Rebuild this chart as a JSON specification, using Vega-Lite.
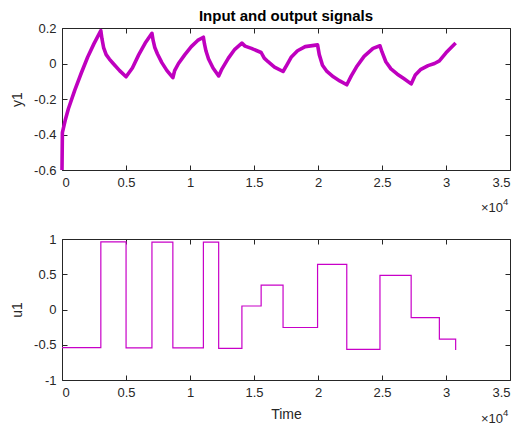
{
  "$schema": "https://vega.github.io/schema/vega-lite/v6.json",
  "background": "white",
  "padding": {"left": 10, "top": 8, "right": 5, "bottom": 0},
  "spacing": 16,
  "config": {
    "view": {"stroke": "#262626", "strokeWidth": 1},
    "font": "Liberation Sans",
    "axis": {
      "grid": false,
      "domain": false,
      "labelFont": "Liberation Sans",
      "labelFontSize": 13,
      "labelColor": "#262626",
      "titleFont": "Liberation Sans",
      "titleFontSize": 14,
      "titleFontWeight": "normal",
      "titleColor": "#262626",
      "tickColor": "#262626",
      "tickSize": -5,
      "labelPadding": 11
    },
    "title": {"font": "Liberation Sans", "fontSize": 15, "fontWeight": "bold", "color": "#000000"}
  },
  "datasets": {
    "y1": [
      {"t": 0, "y": -0.6}, {"t": 30, "y": -0.39}, {"t": 250, "y": -0.32}, {"t": 500, "y": -0.255}, {"t": 1000, "y": -0.15},
      {"t": 1500, "y": -0.055}, {"t": 2000, "y": 0.035}, {"t": 2500, "y": 0.112}, {"t": 3034, "y": 0.185},
      {"t": 3120, "y": 0.14}, {"t": 3250, "y": 0.09}, {"t": 3450, "y": 0.05}, {"t": 3700, "y": 0.025}, {"t": 4000, "y": 0.0},
      {"t": 4500, "y": -0.04}, {"t": 5005, "y": -0.075},
      {"t": 5500, "y": -0.025}, {"t": 6000, "y": 0.05}, {"t": 6500, "y": 0.115}, {"t": 7027, "y": 0.17},
      {"t": 7120, "y": 0.13}, {"t": 7250, "y": 0.09}, {"t": 7450, "y": 0.055}, {"t": 7800, "y": 0.005}, {"t": 8200, "y": -0.04},
      {"t": 8661, "y": -0.08},
      {"t": 8800, "y": -0.04}, {"t": 9100, "y": 0.0}, {"t": 9600, "y": 0.05}, {"t": 10100, "y": 0.095},
      {"t": 10600, "y": 0.13}, {"t": 11046, "y": 0.148},
      {"t": 11130, "y": 0.11}, {"t": 11250, "y": 0.07}, {"t": 11450, "y": 0.025}, {"t": 11800, "y": -0.025}, {"t": 12240, "y": -0.07},
      {"t": 12500, "y": -0.03}, {"t": 13000, "y": 0.03}, {"t": 13500, "y": 0.08}, {"t": 14055, "y": 0.115},
      {"t": 14300, "y": 0.098}, {"t": 14800, "y": 0.085}, {"t": 15558, "y": 0.062},
      {"t": 15800, "y": 0.03}, {"t": 16100, "y": 0.01}, {"t": 16600, "y": -0.02}, {"t": 17270, "y": -0.045},
      {"t": 17550, "y": -0.01}, {"t": 17900, "y": 0.035}, {"t": 18400, "y": 0.072}, {"t": 19000, "y": 0.095},
      {"t": 19966, "y": 0.105},
      {"t": 20100, "y": 0.05}, {"t": 20350, "y": -0.01}, {"t": 20700, "y": -0.045}, {"t": 21200, "y": -0.075}, {"t": 21700, "y": -0.098},
      {"t": 22248, "y": -0.12},
      {"t": 22600, "y": -0.07}, {"t": 23000, "y": -0.02}, {"t": 23600, "y": 0.04}, {"t": 24300, "y": 0.085},
      {"t": 24841, "y": 0.1},
      {"t": 25000, "y": 0.065}, {"t": 25300, "y": 0.01}, {"t": 25700, "y": -0.03}, {"t": 26200, "y": -0.06}, {"t": 26700, "y": -0.085},
      {"t": 27278, "y": -0.115},
      {"t": 27600, "y": -0.065}, {"t": 28000, "y": -0.035}, {"t": 28600, "y": -0.012}, {"t": 29100, "y": 0.0}, {"t": 29482, "y": 0.015},
      {"t": 30000, "y": 0.06}, {"t": 30754, "y": 0.115}
    ],
    "u1": [
      {"t": 0, "u": -0.54}, {"t": 3034, "u": 0.96}, {"t": 5005, "u": -0.545}, {"t": 7027, "u": 0.955},
      {"t": 8661, "u": -0.545}, {"t": 11046, "u": 0.955}, {"t": 12240, "u": -0.55}, {"t": 14055, "u": 0.05},
      {"t": 15558, "u": 0.345}, {"t": 17270, "u": -0.255}, {"t": 19966, "u": 0.64}, {"t": 22248, "u": -0.565},
      {"t": 24841, "u": 0.485}, {"t": 27278, "u": -0.115}, {"t": 29482, "u": -0.42}, {"t": 30754, "u": -0.575}
    ],
    "exp": [{"base": "×10", "sup": "4"}]
  },
  "vconcat": [
    {
      "width": 448,
      "height": 142,
      "title": {"text": "Input and output signals", "anchor": "middle", "frame": "group", "offset": -2},
      "layer": [
        {
          "data": {"name": "y1"},
          "mark": {"type": "line", "color": "#BF00BF", "strokeWidth": 3.6, "strokeJoin": "round"},
          "encoding": {
            "x": {"field": "t", "type": "quantitative", "scale": {"domain": [0, 35000], "nice": false},
              "axis": {"orient": "bottom", "title": null, "values": [0, 5000, 10000, 15000, 20000, 25000, 30000, 35000],
                "labelExpr": "format(datum.value/10000,'~g')"}},
            "y": {"field": "y", "type": "quantitative", "scale": {"domain": [-0.6, 0.2], "nice": false, "zero": false},
              "axis": {"orient": "left", "title": "y1", "values": [-0.6, -0.4, -0.2, 0, 0.2],
                "labelExpr": "replace(format(datum.value,'~g'),'\u2212','-')", "titlePadding": 9}}
          }
        },
        {
          "data": {"name": "exp"},
          "mark": {"type": "text", "align": "right", "baseline": "middle", "dx": -7, "dy": 38, "fontSize": 13, "color": "#262626", "font": "Liberation Sans"},
          "encoding": {
            "text": {"field": "base"},
            "x": {"datum": 35000, "type": "quantitative", "scale": {"domain": [0, 35000], "nice": false},
              "axis": {"orient": "top", "labels": false, "title": null, "values": [0, 5000, 10000, 15000, 20000, 25000, 30000, 35000]}},
            "y": {"datum": -0.6, "type": "quantitative", "scale": {"domain": [-0.6, 0.2], "nice": false, "zero": false},
              "axis": {"orient": "right", "labels": false, "title": null, "values": [-0.6, -0.4, -0.2, 0, 0.2]}}
          }
        },
        {
          "data": {"name": "exp"},
          "mark": {"type": "text", "align": "left", "baseline": "middle", "dx": -7, "dy": 32, "fontSize": 9.5, "color": "#262626", "font": "Liberation Sans"},
          "encoding": {
            "text": {"field": "sup"},
            "x": {"datum": 35000, "type": "quantitative", "scale": {"domain": [0, 35000], "nice": false}, "axis": null},
            "y": {"datum": -0.6, "type": "quantitative", "scale": {"domain": [-0.6, 0.2], "nice": false, "zero": false}, "axis": null}
          }
        }
      ],
      "resolve": {"scale": {"x": "independent", "y": "independent"}}
    },
    {
      "width": 448,
      "height": 141,
      "layer": [
        {
          "data": {"name": "u1"},
          "mark": {"type": "line", "color": "#C800C8", "strokeWidth": 1.2, "interpolate": "step-after"},
          "encoding": {
            "x": {"field": "t", "type": "quantitative", "scale": {"domain": [0, 35000], "nice": false},
              "axis": {"orient": "bottom", "title": "Time", "values": [0, 5000, 10000, 15000, 20000, 25000, 30000, 35000],
                "labelExpr": "format(datum.value/10000,'~g')", "titlePadding": 8}},
            "y": {"field": "u", "type": "quantitative", "scale": {"domain": [-1, 1], "nice": false, "zero": false},
              "axis": {"orient": "left", "title": "u1", "values": [-1, -0.5, 0, 0.5, 1],
                "labelExpr": "replace(format(datum.value,'~g'),'\u2212','-')", "titlePadding": 9}}
          }
        },
        {
          "data": {"name": "exp"},
          "mark": {"type": "text", "align": "right", "baseline": "middle", "dx": -7, "dy": 38.5, "fontSize": 13, "color": "#262626", "font": "Liberation Sans"},
          "encoding": {
            "text": {"field": "base"},
            "x": {"datum": 35000, "type": "quantitative", "scale": {"domain": [0, 35000], "nice": false},
              "axis": {"orient": "top", "labels": false, "title": null, "values": [0, 5000, 10000, 15000, 20000, 25000, 30000, 35000]}},
            "y": {"datum": -1, "type": "quantitative", "scale": {"domain": [-1, 1], "nice": false, "zero": false},
              "axis": {"orient": "right", "labels": false, "title": null, "values": [-1, -0.5, 0, 0.5, 1]}}
          }
        },
        {
          "data": {"name": "exp"},
          "mark": {"type": "text", "align": "left", "baseline": "middle", "dx": -7, "dy": 32.5, "fontSize": 9.5, "color": "#262626", "font": "Liberation Sans"},
          "encoding": {
            "text": {"field": "sup"},
            "x": {"datum": 35000, "type": "quantitative", "scale": {"domain": [0, 35000], "nice": false}, "axis": null},
            "y": {"datum": -1, "type": "quantitative", "scale": {"domain": [-1, 1], "nice": false, "zero": false}, "axis": null}
          }
        }
      ],
      "resolve": {"scale": {"x": "independent", "y": "independent"}}
    }
  ]
}
